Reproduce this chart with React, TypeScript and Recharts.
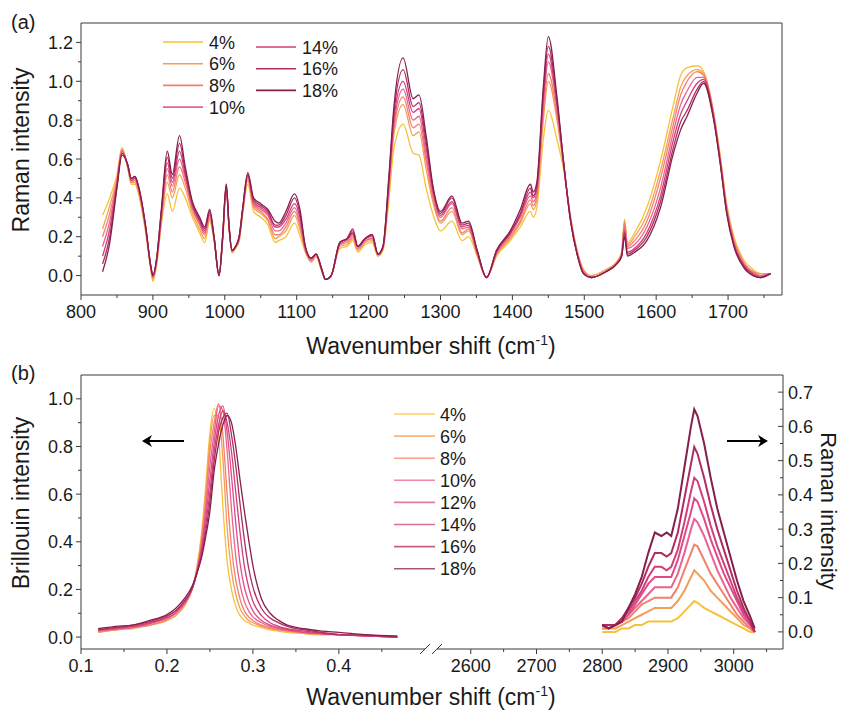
import React from 'react'
import { LineChart, Line, XAxis, YAxis } from 'recharts'

const FONT = '"Liberation Sans", Arial, Helvetica, sans-serif'
const AXIS = '#3a3a3a'
const TEXT = '#1a1a1a'

// concentration colours (yellow -> maroon)
const C4 = '#f8c13a'
const C6 = '#f59d55'
const C8 = '#f3806a'
const C10 = '#ea6291'
const C12 = '#e04b87'
const C14 = '#d03f79'
const C16 = '#b02c61'
const C18 = '#84204c'

// ---------- panel (a): fingerprint Raman ----------
const ramanShift = [
  830, 840, 850, 857, 865, 870, 875, 880, 890, 897,
  900, 905, 912, 920, 927, 937, 945, 955, 965, 972,
  979, 985, 992, 997, 1002, 1006, 1010, 1015, 1020, 1025,
  1032, 1040, 1050, 1060, 1070, 1075, 1085, 1097, 1105, 1112,
  1120, 1127, 1135, 1140, 1148, 1160, 1170, 1178, 1185, 1195,
  1205, 1213, 1220, 1228, 1235, 1248, 1262, 1270, 1280, 1290,
  1300, 1316, 1330, 1339, 1351, 1364, 1378, 1397, 1411, 1425,
  1429, 1434, 1443, 1450, 1462, 1471, 1481, 1490, 1499, 1510,
  1530, 1545, 1552, 1556, 1560, 1570, 1587, 1606, 1624, 1634,
  1643, 1657, 1666, 1680, 1689, 1698, 1708, 1722, 1735, 1745,
  1759,
]

const ramanA4 = [
  0.31, 0.40, 0.52, 0.66, 0.55, 0.47, 0.47, 0.42, 0.22, 0.03,
  -0.03, 0.05, 0.27, 0.42, 0.33, 0.45, 0.40, 0.30, 0.22, 0.17,
  0.28, 0.18, 0.00, 0.18, 0.44, 0.24, 0.12, 0.14, 0.18, 0.32,
  0.47, 0.33, 0.30, 0.26, 0.17, 0.18, 0.20, 0.27, 0.20, 0.12,
  0.07, 0.10, 0.02, -0.02, 0.00, 0.14, 0.15, 0.18, 0.12, 0.16,
  0.17, 0.10, 0.13, 0.38, 0.65, 0.78, 0.63, 0.62, 0.45, 0.31,
  0.23, 0.28, 0.18, 0.20, 0.10, -0.01, 0.10, 0.18, 0.25, 0.33,
  0.30, 0.35, 0.70, 0.85, 0.70, 0.55, 0.30, 0.13, 0.03, 0.00,
  0.03, 0.07, 0.12, 0.29, 0.17, 0.22, 0.35, 0.59, 0.88, 1.03,
  1.07, 1.08, 1.05, 0.84, 0.62, 0.37, 0.20, 0.08, 0.03, 0.01,
  0.01,
]
const ramanA6 = [
  0.24, 0.36, 0.50, 0.65, 0.56, 0.48, 0.48, 0.43, 0.23, 0.04,
  -0.02, 0.06, 0.29, 0.48, 0.40, 0.52, 0.45, 0.32, 0.24, 0.19,
  0.29, 0.19, 0.00, 0.18, 0.45, 0.24, 0.12, 0.14, 0.18, 0.33,
  0.49, 0.35, 0.32, 0.28, 0.19, 0.20, 0.23, 0.31, 0.23, 0.13,
  0.07, 0.10, 0.02, -0.02, 0.00, 0.15, 0.16, 0.19, 0.13, 0.17,
  0.18, 0.10, 0.14, 0.42, 0.72, 0.88, 0.72, 0.74, 0.55, 0.37,
  0.27, 0.33, 0.21, 0.23, 0.11, -0.01, 0.11, 0.19, 0.27, 0.37,
  0.34, 0.39, 0.80, 1.00, 0.80, 0.57, 0.30, 0.13, 0.03, 0.00,
  0.03, 0.07, 0.12, 0.28, 0.16, 0.20, 0.31, 0.54, 0.82, 0.97,
  1.03, 1.06, 1.04, 0.83, 0.61, 0.36, 0.19, 0.07, 0.02, 0.01,
  0.01,
]
const ramanA8 = [
  0.20, 0.32, 0.49, 0.65, 0.56, 0.48, 0.49, 0.44, 0.24, 0.04,
  -0.01, 0.07, 0.30, 0.52, 0.43, 0.56, 0.48, 0.34, 0.26, 0.21,
  0.30, 0.19, 0.00, 0.19, 0.45, 0.25, 0.12, 0.15, 0.19, 0.33,
  0.50, 0.36, 0.33, 0.29, 0.21, 0.21, 0.25, 0.33, 0.25, 0.13,
  0.08, 0.10, 0.03, -0.02, 0.00, 0.16, 0.17, 0.20, 0.14, 0.18,
  0.19, 0.11, 0.14, 0.44, 0.75, 0.92, 0.76, 0.78, 0.59, 0.39,
  0.28, 0.35, 0.22, 0.24, 0.11, -0.01, 0.11, 0.20, 0.28, 0.39,
  0.36, 0.41, 0.84, 1.04, 0.83, 0.58, 0.29, 0.12, 0.02, -0.01,
  0.02, 0.06, 0.11, 0.27, 0.15, 0.18, 0.28, 0.50, 0.78, 0.93,
  1.00, 1.05, 1.03, 0.83, 0.60, 0.35, 0.18, 0.06, 0.02, 0.00,
  0.01,
]
const ramanA10 = [
  0.15, 0.28, 0.48, 0.64, 0.57, 0.49, 0.50, 0.45, 0.24, 0.05,
  -0.01, 0.07, 0.31, 0.55, 0.46, 0.60, 0.50, 0.35, 0.27, 0.22,
  0.31, 0.20, 0.00, 0.19, 0.46, 0.25, 0.13, 0.15, 0.19, 0.34,
  0.51, 0.37, 0.34, 0.31, 0.23, 0.23, 0.27, 0.35, 0.27, 0.14,
  0.08, 0.11, 0.03, -0.02, 0.00, 0.16, 0.18, 0.21, 0.14, 0.18,
  0.19, 0.11, 0.14, 0.45, 0.77, 0.96, 0.80, 0.82, 0.62, 0.41,
  0.30, 0.37, 0.24, 0.25, 0.12, -0.01, 0.12, 0.21, 0.30, 0.41,
  0.38, 0.43, 0.88, 1.10, 0.86, 0.58, 0.29, 0.12, 0.02, -0.01,
  0.02, 0.06, 0.11, 0.25, 0.14, 0.16, 0.25, 0.45, 0.74, 0.88,
  0.95, 1.02, 1.02, 0.82, 0.60, 0.34, 0.17, 0.06, 0.01, 0.00,
  0.01,
]
const ramanA14 = [
  0.10, 0.24, 0.47, 0.63, 0.57, 0.49, 0.50, 0.45, 0.25, 0.05,
  0.00, 0.08, 0.33, 0.58, 0.48, 0.64, 0.52, 0.36, 0.28, 0.23,
  0.32, 0.20, 0.00, 0.20, 0.46, 0.25, 0.13, 0.15, 0.20, 0.34,
  0.52, 0.38, 0.35, 0.32, 0.25, 0.25, 0.29, 0.37, 0.29, 0.14,
  0.09, 0.11, 0.03, -0.02, 0.00, 0.17, 0.19, 0.23, 0.15, 0.19,
  0.20, 0.11, 0.15, 0.47, 0.80, 1.00, 0.84, 0.86, 0.66, 0.43,
  0.31, 0.38, 0.25, 0.26, 0.12, -0.01, 0.12, 0.22, 0.31, 0.43,
  0.40, 0.45, 0.91, 1.14, 0.88, 0.59, 0.28, 0.11, 0.01, -0.01,
  0.02, 0.06, 0.10, 0.23, 0.12, 0.14, 0.22, 0.41, 0.70, 0.83,
  0.90, 0.99, 1.01, 0.81, 0.59, 0.33, 0.16, 0.05, 0.01, -0.01,
  0.01,
]
const ramanA16 = [
  0.06, 0.20, 0.46, 0.63, 0.57, 0.50, 0.51, 0.46, 0.25, 0.05,
  0.00, 0.08, 0.34, 0.61, 0.50, 0.68, 0.54, 0.37, 0.29, 0.24,
  0.33, 0.20, 0.00, 0.20, 0.47, 0.25, 0.13, 0.15, 0.20, 0.35,
  0.52, 0.39, 0.36, 0.33, 0.26, 0.26, 0.31, 0.40, 0.31, 0.15,
  0.09, 0.11, 0.03, -0.02, 0.00, 0.17, 0.19, 0.24, 0.15, 0.19,
  0.21, 0.11, 0.15, 0.48, 0.83, 1.06, 0.87, 0.89, 0.69, 0.44,
  0.32, 0.40, 0.26, 0.27, 0.13, -0.01, 0.13, 0.22, 0.32, 0.45,
  0.41, 0.46, 0.94, 1.18, 0.90, 0.59, 0.28, 0.11, 0.01, -0.01,
  0.02, 0.06, 0.10, 0.22, 0.11, 0.13, 0.20, 0.38, 0.66, 0.79,
  0.85, 0.96, 1.00, 0.81, 0.58, 0.33, 0.16, 0.05, 0.00, -0.01,
  0.01,
]
const ramanA18 = [
  0.02, 0.17, 0.45, 0.62, 0.57, 0.50, 0.51, 0.46, 0.25, 0.05,
  0.00, 0.08, 0.35, 0.64, 0.52, 0.72, 0.56, 0.38, 0.30, 0.25,
  0.34, 0.20, 0.00, 0.20, 0.47, 0.25, 0.13, 0.15, 0.20, 0.35,
  0.53, 0.40, 0.37, 0.34, 0.28, 0.27, 0.33, 0.42, 0.33, 0.15,
  0.09, 0.11, 0.03, -0.02, 0.00, 0.17, 0.19, 0.22, 0.15, 0.19,
  0.21, 0.11, 0.15, 0.50, 0.86, 1.12, 0.91, 0.93, 0.72, 0.45,
  0.33, 0.41, 0.27, 0.28, 0.13, -0.01, 0.13, 0.23, 0.34, 0.47,
  0.43, 0.48, 0.97, 1.23, 0.92, 0.59, 0.28, 0.11, 0.01, -0.01,
  0.02, 0.06, 0.10, 0.20, 0.10, 0.12, 0.18, 0.35, 0.63, 0.75,
  0.82, 0.94, 0.99, 0.80, 0.58, 0.32, 0.15, 0.04, 0.00, -0.01,
  0.01,
]

const ticksAXMajor = [800, 900, 1000, 1100, 1200, 1300, 1400, 1500, 1600, 1700]
const ticksAXMinor = [850, 950, 1050, 1150, 1250, 1350, 1450, 1550, 1650, 1750]
const ticksAYMajor = [0, 0.2, 0.4, 0.6, 0.8, 1.0, 1.2]
const ticksAYMinor = [0.1, 0.3, 0.5, 0.7, 0.9, 1.1]

// ---------- panel (b) left: Brillouin ----------
const brillouinShift = [
  0.12, 0.14, 0.16, 0.18, 0.20, 0.21, 0.22, 0.23, 0.235, 0.24,
  0.245, 0.25, 0.255, 0.26, 0.265, 0.27, 0.275, 0.28, 0.285, 0.29,
  0.295, 0.30, 0.31, 0.32, 0.33, 0.34, 0.36, 0.38, 0.40, 0.43,
  0.468,
]
const bril4 = [
  0.02, 0.03, 0.035, 0.05, 0.07, 0.09, 0.13, 0.21, 0.30, 0.43,
  0.63, 0.86, 0.96, 0.85, 0.55, 0.32, 0.20, 0.13, 0.09, 0.07,
  0.06, 0.05, 0.04, 0.03, 0.025, 0.02, 0.015, 0.01, 0.01, 0.005,
  0.0,
]
const bril6 = [
  0.02, 0.03, 0.04, 0.05, 0.07, 0.09, 0.13, 0.21, 0.29, 0.41,
  0.60, 0.82, 0.93, 0.93, 0.75, 0.46, 0.28, 0.18, 0.12, 0.09,
  0.07, 0.06, 0.045, 0.035, 0.03, 0.025, 0.015, 0.01, 0.01, 0.005,
  0.0,
]
const bril8 = [
  0.025, 0.03, 0.04, 0.05, 0.075, 0.10, 0.14, 0.21, 0.28, 0.39,
  0.56, 0.78, 0.90, 0.98, 0.85, 0.60, 0.38, 0.24, 0.16, 0.11,
  0.085, 0.07, 0.05, 0.04, 0.03, 0.025, 0.02, 0.015, 0.01, 0.005,
  0.0,
]
const bril10 = [
  0.025, 0.035, 0.04, 0.055, 0.08, 0.10, 0.14, 0.21, 0.28, 0.38,
  0.53, 0.72, 0.86, 0.97, 0.95, 0.78, 0.54, 0.34, 0.22, 0.15,
  0.11, 0.085, 0.06, 0.045, 0.035, 0.03, 0.02, 0.015, 0.01, 0.005,
  0.0,
]
const bril12 = [
  0.03, 0.035, 0.045, 0.06, 0.08, 0.10, 0.14, 0.21, 0.28, 0.37,
  0.50, 0.66, 0.82, 0.93, 0.97, 0.86, 0.68, 0.48, 0.31, 0.21,
  0.15, 0.11, 0.07, 0.05, 0.04, 0.03, 0.02, 0.015, 0.01, 0.005,
  0.0,
]
const bril14 = [
  0.03, 0.04, 0.045, 0.06, 0.085, 0.11, 0.15, 0.21, 0.27, 0.35,
  0.47, 0.61, 0.78, 0.89, 0.95, 0.90, 0.78, 0.61, 0.44, 0.30,
  0.21, 0.15, 0.09, 0.06, 0.045, 0.035, 0.025, 0.015, 0.01, 0.005,
  0.0,
]
const bril16 = [
  0.03, 0.04, 0.05, 0.065, 0.09, 0.11, 0.15, 0.21, 0.27, 0.34,
  0.44, 0.57, 0.74, 0.86, 0.92, 0.94, 0.85, 0.72, 0.56, 0.41,
  0.29, 0.21, 0.12, 0.08, 0.06, 0.045, 0.03, 0.02, 0.01, 0.008,
  0.0,
]
const bril18 = [
  0.035, 0.045, 0.05, 0.07, 0.095, 0.12, 0.16, 0.22, 0.27, 0.33,
  0.42, 0.53, 0.70, 0.81, 0.89, 0.93, 0.90, 0.80, 0.66, 0.53,
  0.41, 0.30, 0.16, 0.10, 0.07, 0.05, 0.035, 0.025, 0.02, 0.01,
  0.005,
]

const ticksBLXMajor = [0.1, 0.2, 0.3, 0.4]
const ticksBLXMinor = [0.15, 0.25, 0.35, 0.45]
const ticksBLYMajor = [0, 0.2, 0.4, 0.6, 0.8, 1.0]
const ticksBLYMinor = [0.1, 0.3, 0.5, 0.7, 0.9]

// ---------- panel (b) right: C-H stretching Raman ----------
const chShift = [
  2800, 2810, 2820, 2830, 2840, 2850, 2860, 2870, 2880, 2890,
  2898, 2905, 2915, 2925, 2935, 2940, 2945, 2955, 2965, 2975,
  2985, 2995, 3005, 3015, 3025, 3032,
]
const ch4 = [
  0.00, 0.00, 0.00, 0.01, 0.01, 0.02, 0.02, 0.03, 0.03, 0.03,
  0.03, 0.03, 0.04, 0.06, 0.08, 0.09, 0.085, 0.07, 0.06, 0.05,
  0.04, 0.03, 0.02, 0.01, 0.00, 0.00,
]
const ch6 = [
  0.01, 0.01, 0.01, 0.02, 0.03, 0.04, 0.05, 0.06, 0.07, 0.07,
  0.07, 0.07, 0.09, 0.12, 0.16, 0.18, 0.17, 0.15, 0.12, 0.10,
  0.08, 0.06, 0.04, 0.02, 0.01, 0.00,
]
const ch8 = [
  0.01, 0.01, 0.02, 0.03, 0.04, 0.06, 0.08, 0.09, 0.10, 0.10,
  0.10, 0.10, 0.13, 0.18, 0.23, 0.255, 0.25, 0.21, 0.17, 0.14,
  0.11, 0.08, 0.05, 0.03, 0.01, 0.00,
]
const ch10 = [
  0.02, 0.01, 0.02, 0.03, 0.05, 0.07, 0.09, 0.11, 0.13, 0.13,
  0.13, 0.13, 0.17, 0.23, 0.30, 0.33, 0.32, 0.28, 0.23, 0.18,
  0.14, 0.10, 0.07, 0.04, 0.02, 0.00,
]
const ch12 = [
  0.02, 0.01, 0.02, 0.03, 0.05, 0.08, 0.11, 0.14, 0.16, 0.16,
  0.16, 0.16, 0.21, 0.28, 0.35, 0.39, 0.38, 0.33, 0.27, 0.22,
  0.17, 0.13, 0.09, 0.05, 0.02, 0.00,
]
const ch14 = [
  0.02, 0.02, 0.02, 0.04, 0.06, 0.09, 0.12, 0.16, 0.19, 0.19,
  0.18, 0.19, 0.24, 0.32, 0.41, 0.45, 0.44, 0.38, 0.31, 0.25,
  0.20, 0.15, 0.10, 0.06, 0.03, 0.00,
]
const ch16 = [
  0.02, 0.02, 0.02, 0.04, 0.07, 0.10, 0.14, 0.19, 0.23, 0.23,
  0.22, 0.23, 0.29, 0.39, 0.49, 0.54, 0.52, 0.45, 0.37, 0.30,
  0.24, 0.18, 0.12, 0.07, 0.03, 0.00,
]
const ch18 = [
  0.02, 0.01, 0.02, 0.03, 0.07, 0.11, 0.16, 0.23, 0.29, 0.28,
  0.29, 0.28, 0.36, 0.48, 0.60, 0.65, 0.63, 0.55, 0.45, 0.36,
  0.29, 0.22, 0.15, 0.09, 0.045, 0.01,
]

const ticksBRXMajor = [2600, 2700, 2800, 2900, 3000]
const ticksBRXMinor = [2650, 2750, 2850, 2950, 3050]
const ticksBRYMajor = [0, 0.1, 0.2, 0.3, 0.4, 0.5, 0.6, 0.7]
const ticksBRYMinor = [0.05, 0.15, 0.25, 0.35, 0.45, 0.55, 0.65]

const seriesA = [
  { key: 'p4', label: '4%', color: C4, values: ramanA4 },
  { key: 'p6', label: '6%', color: C6, values: ramanA6 },
  { key: 'p8', label: '8%', color: C8, values: ramanA8 },
  { key: 'p10', label: '10%', color: C10, values: ramanA10 },
  { key: 'p14', label: '14%', color: C14, values: ramanA14 },
  { key: 'p16', label: '16%', color: C16, values: ramanA16 },
  { key: 'p18', label: '18%', color: C18, values: ramanA18 },
]

const seriesB = [
  { key: 'p4', label: '4%', color: C4, bril: bril4, ch: ch4 },
  { key: 'p6', label: '6%', color: C6, bril: bril6, ch: ch6 },
  { key: 'p8', label: '8%', color: C8, bril: bril8, ch: ch8 },
  { key: 'p10', label: '10%', color: C10, bril: bril10, ch: ch10 },
  { key: 'p12', label: '12%', color: C12, bril: bril12, ch: ch12 },
  { key: 'p14', label: '14%', color: C14, bril: bril14, ch: ch14 },
  { key: 'p16', label: '16%', color: C16, bril: bril16, ch: ch16 },
  { key: 'p18', label: '18%', color: C18, bril: bril18, ch: ch18 },
]

const toRows = (xs: number[], series: { key: string }[], pick: (s: any) => number[]) =>
  xs.map((x, i) => {
    const row: Record<string, number> = { x }
    series.forEach((s) => {
      row[s.key] = pick(s)[i]
    })
    return row
  })

const dataA = toRows(ramanShift, seriesA, (s) => s.values)
const dataBL = toRows(brillouinShift, seriesB, (s) => s.bril)
const dataBR = toRows(chShift, seriesB, (s) => s.ch)

const fmt1 = (v: number) => v.toFixed(1)
const fmt0 = (v: number) => String(v)

// tick renderers: majors get a label and a longer mark
const bottomTick = (majors: number[], fmt: (v: number) => string) => (p: any) => {
  const major = majors.includes(p.payload.value)
  return (
    <g>
      <line x1={p.x} x2={p.x} y1={p.y} y2={p.y + (major ? 5 : 3)} stroke={AXIS} />
      {major && (
        <text x={p.x} y={p.y + 23} textAnchor="middle" fontSize={18} fontFamily={FONT} fill={TEXT}>
          {fmt(p.payload.value)}
        </text>
      )}
    </g>
  )
}

const leftTick = (majors: number[], fmt: (v: number) => string) => (p: any) => {
  const major = majors.includes(p.payload.value)
  return (
    <g>
      <line x1={p.x} x2={p.x - (major ? 5 : 3)} y1={p.y} y2={p.y} stroke={AXIS} />
      {major && (
        <text x={p.x - 8} y={p.y + 6.5} textAnchor="end" fontSize={18} fontFamily={FONT} fill={TEXT}>
          {fmt(p.payload.value)}
        </text>
      )}
    </g>
  )
}

const rightTick = (majors: number[], fmt: (v: number) => string) => (p: any) => {
  const major = majors.includes(p.payload.value)
  return (
    <g>
      <line x1={p.x} x2={p.x - (major ? 5 : 3)} y1={p.y} y2={p.y} stroke={AXIS} />
      {major && (
        <text x={p.x + 5} y={p.y + 6.5} textAnchor="start" fontSize={18} fontFamily={FONT} fill={TEXT}>
          {fmt(p.payload.value)}
        </text>
      )}
    </g>
  )
}

const sorted = (a: number[], b: number[]) => [...a, ...b].sort((m, n) => m - n)

const XLabel = ({ x, y }: { x: number; y: number }) => (
  <text x={x} y={y} textAnchor="middle" fontSize={23} fontFamily={FONT} fill={TEXT}>
    Wavenumber shift (cm
    <tspan dy={-9} fontSize={14}>-1</tspan>
    <tspan dy={9}>)</tspan>
  </text>
)

const App = () => {
  return (
    <div
      style={{
        position: 'absolute',
        left: 0,
        top: 0,
        width: 843,
        height: 714,
        background: '#fff',
        fontFamily: FONT,
        overflow: 'hidden',
      }}
    >
      {/* (a) fingerprint region */}
      <div style={{ position: 'absolute', left: 0, top: 0 }}>
        <LineChart width={843} height={340} data={dataA} margin={{ top: 23, right: 61, bottom: 0, left: 0 }}>
          <XAxis
            dataKey="x"
            type="number"
            domain={[800, 1775]}
            allowDataOverflow
            ticks={sorted(ticksAXMajor, ticksAXMinor)}
            interval={0}
            height={45}
            tickSize={0}
            tickMargin={0}
            tickLine={false}
            stroke={AXIS}
            tick={bottomTick(ticksAXMajor, fmt0)}
          />
          <YAxis
            type="number"
            domain={[-0.1, 1.3]}
            allowDataOverflow
            ticks={sorted(ticksAYMajor, ticksAYMinor)}
            interval={0}
            width={81}
            tickSize={0}
            tickMargin={0}
            tickLine={false}
            stroke={AXIS}
            tick={leftTick(ticksAYMajor, fmt1)}
          />
          {seriesA.map((s) => (
            <Line
              key={s.key}
              dataKey={s.key}
              type="monotone"
              stroke={s.color}
              strokeWidth={1.3}
              dot={false}
              isAnimationActive={false}
            />
          ))}
        </LineChart>
      </div>

      {/* (b) left: Brillouin */}
      <div style={{ position: 'absolute', left: 0, top: 340 }}>
        <LineChart width={430} height={374} data={dataBL} margin={{ top: 35, right: 0, bottom: 0, left: 0 }}>
          <XAxis
            dataKey="x"
            type="number"
            domain={[0.1, 0.506]}
            allowDataOverflow
            ticks={sorted(ticksBLXMajor, ticksBLXMinor)}
            interval={0}
            height={65}
            tickSize={0}
            tickMargin={0}
            tickLine={false}
            stroke={AXIS}
            tick={bottomTick(ticksBLXMajor, fmt1)}
          />
          <YAxis
            type="number"
            domain={[-0.05, 1.1]}
            allowDataOverflow
            ticks={sorted(ticksBLYMajor, ticksBLYMinor)}
            interval={0}
            width={81}
            tickSize={0}
            tickMargin={0}
            tickLine={false}
            stroke={AXIS}
            tick={leftTick(ticksBLYMajor, fmt1)}
          />
          {seriesB.map((s) => (
            <Line
              key={s.key}
              dataKey={s.key}
              type="monotone"
              stroke={s.color}
              strokeWidth={1.3}
              dot={false}
              isAnimationActive={false}
            />
          ))}
        </LineChart>
      </div>

      {/* (b) right: C-H Raman */}
      <div style={{ position: 'absolute', left: 430, top: 340 }}>
        <LineChart width={413} height={374} data={dataBR} margin={{ top: 35, right: 0, bottom: 0, left: 0 }}>
          <XAxis
            dataKey="x"
            type="number"
            domain={[2538, 3075]}
            allowDataOverflow
            ticks={sorted(ticksBRXMajor, ticksBRXMinor)}
            interval={0}
            height={65}
            tickSize={0}
            tickMargin={0}
            tickLine={false}
            stroke={AXIS}
            tick={bottomTick(ticksBRXMajor, fmt0)}
          />
          <YAxis
            orientation="right"
            type="number"
            domain={[-0.05, 0.75]}
            allowDataOverflow
            ticks={sorted(ticksBRYMajor, ticksBRYMinor)}
            interval={0}
            width={60}
            tickSize={0}
            tickMargin={0}
            tickLine={false}
            stroke={AXIS}
            tick={rightTick(ticksBRYMajor, fmt1)}
          />
          {seriesB.map((s) => (
            <Line
              key={s.key}
              dataKey={s.key}
              type="linear"
              stroke={s.color}
              strokeWidth={2}
              dot={false}
              isAnimationActive={false}
            />
          ))}
        </LineChart>
      </div>

      {/* frame tops/right, titles, legends, arrows, axis break */}
      <svg width={843} height={714} style={{ position: 'absolute', left: 0, top: 0, pointerEvents: 'none' }}>
        <polyline points="81,23 782,23 782,295" fill="none" stroke={AXIS} strokeWidth={1} />
        <line x1={81} x2={783} y1={375} y2={375} stroke={AXIS} strokeWidth={1} />

        <text x={11} y={29} fontSize={20} fontFamily={FONT} fill={TEXT}>(a)</text>
        <text x={11} y={380} fontSize={20} fontFamily={FONT} fill={TEXT}>(b)</text>

        <text transform="translate(29,150) rotate(-90)" textAnchor="middle" fontSize={23} fontFamily={FONT} fill={TEXT}>
          Raman intensity
        </text>
        <text transform="translate(29,503) rotate(-90)" textAnchor="middle" fontSize={23} fontFamily={FONT} fill={TEXT}>
          Brillouin intensity
        </text>
        <text transform="translate(821,511) rotate(90)" textAnchor="middle" fontSize={22} fontFamily={FONT} fill={TEXT}>
          Raman intensity
        </text>
        <XLabel x={431} y={354} />
        <XLabel x={431} y={705} />

        {/* legend (a): two columns */}
        {seriesA.map((s, i) => {
          const col = i < 4 ? 0 : 1
          const row = col === 0 ? i : i - 4
          const x0 = col === 0 ? 163 : 256
          const y0 = (col === 0 ? 42 : 47) + row * 21.7
          return (
            <g key={s.key}>
              <line x1={x0} x2={x0 + 40} y1={y0} y2={y0} stroke={s.color} strokeWidth={1.6} />
              <text x={x0 + 46} y={y0 + 6.5} fontSize={18} fontFamily={FONT} fill={TEXT}>{s.label}</text>
            </g>
          )
        })}

        {/* legend (b) */}
        {seriesB.map((s, i) => {
          const y0 = 414 + i * 22.1
          return (
            <g key={s.key}>
              <line x1={394} x2={435} y1={y0} y2={y0} stroke={s.color} strokeWidth={1.6} opacity={0.75} />
              <text x={440} y={y0 + 6.5} fontSize={18} fontFamily={FONT} fill={TEXT}>{s.label}</text>
            </g>
          )
        })}

        {/* arrows pointing to the relevant axis */}
        <line x1={184} x2={146} y1={441} y2={441} stroke="#000" strokeWidth={2} />
        <path d="M142,441 L152,435 L149,441 L152,447 Z" fill="#000" />
        <line x1={727} x2={764} y1={441} y2={441} stroke="#000" strokeWidth={2} />
        <path d="M768,441 L758,435 L761,441 L758,447 Z" fill="#000" />

        {/* axis break */}
        <rect x={425} y={646} width={12} height={7} fill="#fff" />
        <line x1={420} y1={654} x2={430} y2={644} stroke={AXIS} strokeWidth={1} />
        <line x1={432} y1={654} x2={442} y2={644} stroke={AXIS} strokeWidth={1} />
      </svg>
    </div>
  )
}

export default App
